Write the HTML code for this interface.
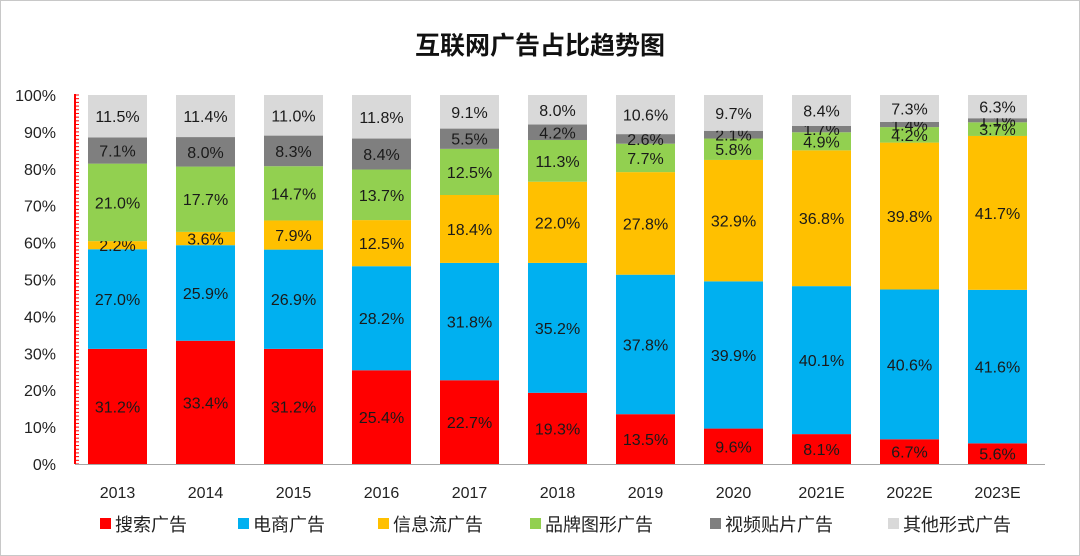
<!DOCTYPE html>
<html><head><meta charset="utf-8"><style>
body{margin:0;background:#fff;}
svg{display:block;font-family:"Liberation Sans","Noto Sans CJK SC",sans-serif;}
</style></head><body>
<svg id="chart" width="1080" height="556">
<rect x="0.5" y="0.5" width="1079" height="555" fill="#fff" stroke="#c8c8c8"/>
<text x="540" y="54" text-anchor="middle" font-size="25" font-weight="bold" fill="#111">互联网广告占比趋势图</text>
<g id="grid"></g><g id="bars"></g><g id="axes"></g><g id="legend"></g>
</svg>
<script>
const categories=["2013","2014","2015","2016","2017","2018","2019","2020","2021E","2022E","2023E"];
const seriesNames=["搜索广告","电商广告","信息流广告","品牌图形广告","视频贴片广告","其他形式广告"];
const search=[31.2,33.4,31.2,25.4,22.7,19.3,13.5,9.6,8.1,6.7,5.6];
const ecommerce=[27.0,25.9,26.9,28.2,31.8,35.2,37.8,39.9,40.1,40.6,41.6];
const feed=[2.2,3.6,7.9,12.5,18.4,22.0,27.8,32.9,36.8,39.8,41.7];
const brand=[21.0,17.7,14.7,13.7,12.5,11.3,7.7,5.8,4.9,4.2,3.7];
const video=[7.1,8.0,8.3,8.4,5.5,4.2,2.6,2.1,1.7,1.4,1.1];
const other=[11.5,11.4,11.0,11.8,9.1,8.0,10.6,9.7,8.4,7.3,6.3];
const yTicks=[0,10,20,30,40,50,60,70,80,90,100];
const series=[search,ecommerce,feed,brand,video,other];
const colors=["#ff0000","#00b0f0","#ffc000","#92d050","#7f7f7f","#d9d9d9"];
const NS="http://www.w3.org/2000/svg";
const y0=464,y100=95,x0=75,step=88,bw=59;
const yS=v=>y0-(y0-y100)*v/100;
const xC=i=>117.5+i*step;
function mk(t,a,p){const e=document.createElementNS(NS,t);for(const k in a)e.setAttribute(k,a[k]);p.appendChild(e);return e;}
const bars=document.getElementById('bars'),axes=document.getElementById('axes'),leg=document.getElementById('legend');
categories.forEach((c,i)=>{
  let total=0;series.forEach(s=>total+=s[i]);
  let acc=0;
  series.forEach((s,k)=>{
    const v=s[i]/total*100;
    const r=mk('rect',{x:xC(i)-bw/2,y:yS(acc+v),width:bw,height:yS(acc)-yS(acc+v),fill:colors[k]},bars);
    
    
    const t=mk('text',{x:xC(i),y:(yS(acc)+yS(acc+v))/2+6,'text-anchor':'middle','font-size':16,fill:'#1a1a1a'},bars);
    t.textContent=s[i].toFixed(1)+'%';
    
    
    acc+=v;
  });
  const xl=mk('text',{x:xC(i),y:498,'text-anchor':'middle','font-size':16,fill:'#222'},axes);
  xl.textContent=c;
  
  
});
yTicks.forEach(v=>{
  const t=mk('text',{x:56,y:yS(v)+6,'text-anchor':'end','font-size':16,fill:'#222'},axes);
  t.textContent=v+'%';
  
  
});
for(let v=0;v<=100;v++){
  const tk=mk('line',{x1:x0,x2:x0+4,y1:yS(v),y2:yS(v),stroke:'#ff0000','stroke-width':1},axes);
  
  
}
const ya=mk('line',{x1:x0,x2:x0,y1:y100-1,y2:y0,stroke:'#ff0000','stroke-width':2},axes);


const xa=mk('line',{x1:x0,x2:1045,y1:y0+0.5,y2:y0+0.5,stroke:'#a6a6a6','stroke-width':1},axes);


const lx=[100,238,378,530,710,888];
seriesNames.forEach((n,k)=>{
  const g=mk('g',{},leg);
  
  
  mk('rect',{x:lx[k],y:518,width:11,height:11,fill:colors[k]},g);
  const t=mk('text',{x:lx[k]+15,y:531,'font-size':18,fill:'#222'},g);
  t.textContent=n;
});
</script>
</body></html>
